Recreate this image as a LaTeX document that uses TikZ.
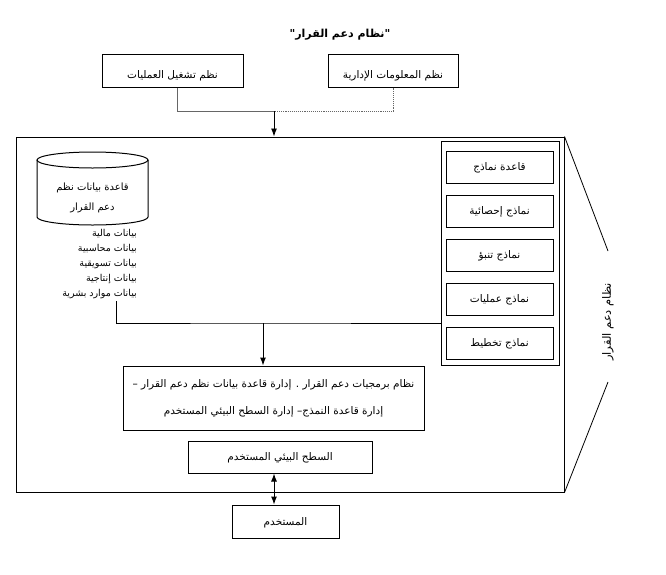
\documentclass[tikz,border=0pt]{standalone}
\usepackage{fontspec}
\newfontfamily\arabicfont[Script=Arabic]{DejaVu Sans}
\TeXXeTstate=1
\usepackage{tikz}
\usetikzlibrary{arrows.meta,positioning,calc}
\newcommand{\ar}[1]{\beginR #1\endR}

\begin{document}
\begin{tikzpicture}[x=1pt,y=-1pt,>={Latex[length=8pt,width=6pt]},
box/.style={draw,line width=1pt,minimum height=32pt,inner sep=2pt,align=center,font=\arabicfont\fontsize{10.5}{12}\selectfont},
flat/.style={text depth=0pt},
low/.style={text height=15pt,text depth=0pt},
frame/.style={draw,line width=1pt},
link/.style={draw=black!60,line width=0.9pt},
txt/.style={font=\arabicfont\fontsize{10.5}{12}\selectfont,inner sep=1pt}]
\useasboundingbox (0,0) rectangle (666,574);
% title and feeding systems
\node[txt,font=\arabicfont\bfseries\fontsize{11}{13}\selectfont] (title) at (340,35) {\ar{"نظام دعم القرار"}};
\node[box,low,minimum width=141pt,minimum height=33pt] (ops) at (172.5,70.5) {\ar{نظم تشغيل العمليات}};
\node[box,low,minimum width=130pt,minimum height=33pt] (mis) at (393,70.5) {\ar{نظم المعلومات الإدارية}};
% outer system frame
\node[frame,minimum width=548pt,minimum height=355pt,inner sep=0pt] (dss) at (290,314.5) {};
\coordinate (top) at (274,111);
\draw[link] (ops.south -| 177,0) |- (top);
\draw[link,densely dotted] (mis.south) |- (top);
\draw[->,line width=0.9pt] (top) -- (top |- dss.north);
% database drum
\draw[line width=1pt] (92.5,160) ellipse[x radius=55.5,y radius=8];
\draw[line width=1pt] (37,160) -- (37,217) arc[start angle=180,end angle=0,x radius=55.5,y radius=8] -- (148,160);
\node[txt,align=center,font=\arabicfont\fontsize{10}{20}\selectfont] (dbname) at (92.5,198) {\ar{قاعدة بيانات نظم}\\\ar{دعم القرار}};
\node[txt,anchor=north east,align=right,font=\arabicfont\fontsize{9.5}{15}\selectfont] (data) at (138,228)
  {\ar{بيانات مالية}\\\ar{بيانات محاسبية}\\\ar{بيانات تسويقية}\\\ar{بيانات إنتاجية}\\\ar{بيانات موارد بشرية}};
% model base
\node[frame,minimum width=118pt,minimum height=224pt,inner sep=0pt] (mbase) at (500,253) {};
\node[box,flat,minimum width=107pt] (m1) at (499.5,167) {\ar{قاعدة نماذج}};
\node[box,flat,minimum width=107pt,below=11pt of m1] (m2) {\ar{نماذج إحصائية}};
\node[box,flat,minimum width=107pt,below=11pt of m2] (m3) {\ar{نماذج تنبؤ}};
\node[box,flat,minimum width=107pt,below=11pt of m3] (m4) {\ar{نماذج عمليات}};
\node[box,flat,minimum width=107pt,below=11pt of m4] (m5) {\ar{نماذج تخطيط}};
% software and interface
\node[box,minimum width=301pt,minimum height=64pt,font=\arabicfont\fontsize{10.5}{27}\selectfont] (soft) at (273.5,398)
  {\ar{نظام برمجيات دعم القرار . إدارة قاعدة بيانات نظم دعم القرار –}\\\ar{إدارة قاعدة النمذج– إدارة السطح البيئي المستخدم}};
\node[box,flat,minimum width=184pt] (ui) at (280,457) {\ar{السطح البيئي المستخدم}};
\node[box,flat,minimum width=107pt,minimum height=33pt] (user) at (285.5,521.5) {\ar{المستخدم}};
\coordinate (dbl) at (116,301);
\coordinate (mid) at (263,323);
\draw[line width=1pt] (dbl) |- (mid) -- (mid -| mbase.west);
\draw[->,line width=1pt] (mid) -- (mid |- soft.north);
\draw[<->,line width=1pt] (274,0 |- ui.south) -- (274,0 |- user.north);
% side label
\node[txt,rotate=90,font=\arabicfont\fontsize{11.5}{13}\selectfont] (side) at (608,322) {\ar{نظام دعم القرار}};
\coordinate (sa) at (608,251);
\coordinate (sb) at (608,382);
\draw[line width=0.8pt] (dss.north east) -- (sa);
\draw[line width=0.8pt] (sb) -- (dss.south east);
\end{tikzpicture}
\end{document}
